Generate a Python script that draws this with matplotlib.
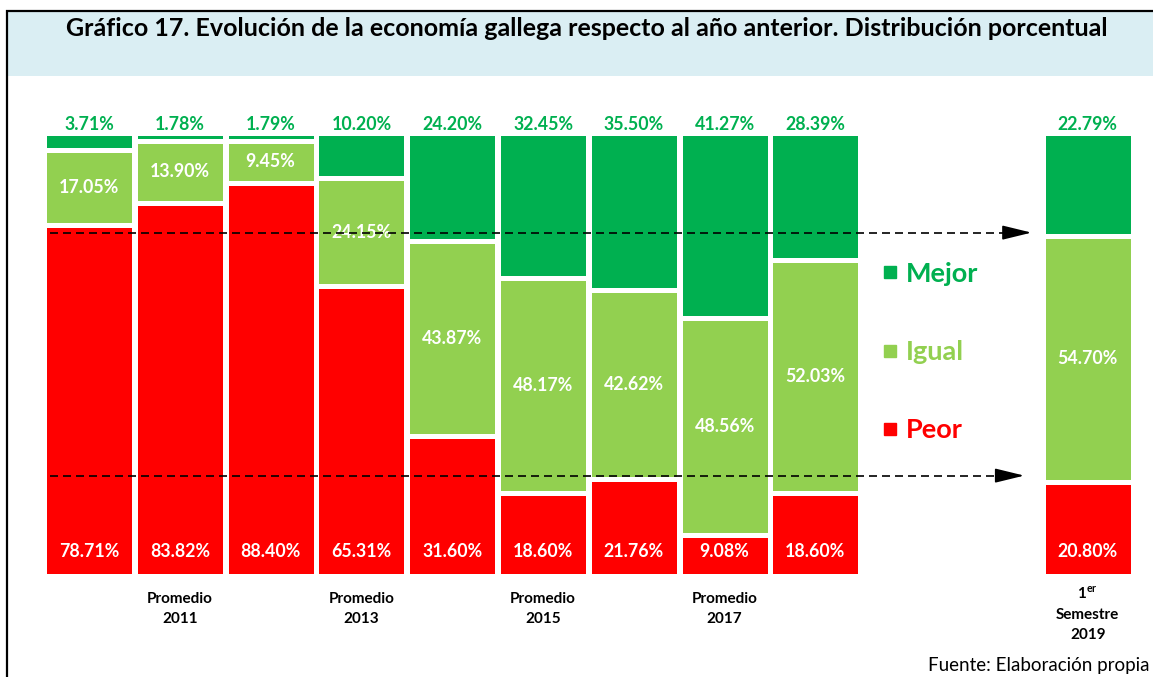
import matplotlib
matplotlib.use('Agg')
import matplotlib.pyplot as plt
from matplotlib.patches import Rectangle
from matplotlib.lines import Line2D
import numpy as np

# ---------------- data ----------------
tick_labels = ['', 'Promedio\n2011', '', 'Promedio\n2013', '', 'Promedio\n2015', '',
               'Promedio\n2017', '', '1$^{\\mathbf{er}}$\nSemestre\n2019']
positions = [0, 1, 2, 3, 4, 5, 6, 7, 8, 11]
mejor = [3.71, 1.78, 1.79, 10.20, 24.20, 32.45, 35.50, 41.27, 28.39, 22.79]
igual = [17.05, 13.90, 9.45, 24.15, 43.87, 48.17, 42.62, 48.56, 52.03, 54.70]
peor = [78.71, 83.82, 88.40, 65.31, 31.60, 18.60, 21.76, 9.08, 18.60, 20.80]
series_names = ['Mejor', 'Igual', 'Peor']
title = ('Gráfico 17. Evolución de la economía gallega respecto al año anterior. '
         'Distribución porcentual')
source = 'Fuente: Elaboración propia'

C_MEJOR = '#00B050'
C_IGUAL = '#92D050'
C_PEOR = '#FF0000'

plt.rcParams['font.family'] = ['Lato', 'DejaVu Sans']
plt.rcParams['mathtext.fontset'] = 'custom'
plt.rcParams['mathtext.rm'] = 'Lato'
plt.rcParams['mathtext.bf'] = 'Lato:bold'

W, H = 1153, 677
fig = plt.figure(figsize=(W / 100, H / 100), dpi=100)


def fx(px):
    return px / W


def fy(py):
    return 1 - py / H


# frame and title band
fig.patches.append(Rectangle((fx(7), fy(76)), 1.0, fy(11) - fy(76),
                             transform=fig.transFigure, fc='#DAEEF3', ec='none', zorder=0))
fig.patches.append(Rectangle((fx(7), fy(900)), 1.2, fy(11) - fy(900),
                             transform=fig.transFigure, fill=False, ec='black', lw=1.6, zorder=1))
fig.text(fx(587), fy(29), title, ha='center', va='center', fontsize=18,
         fontweight='bold', color='black')

# axes
top_px, bot_px = 133, 576
ax = fig.add_axes([fx(43.6), fy(bot_px), 1089.6 / W, (bot_px - top_px) / H])
ax.set_xlim(-0.5, 11.5)
ax.set_ylim(0, 100)
ax.axis('off')

m = np.array(mejor)
i_ = np.array(igual)
p = np.array(peor)
tot = m + i_ + p
mn, inn, pn = m / tot * 100, i_ / tot * 100, p / tot * 100
x = np.array(positions, dtype=float)

bw = 0.99
elw = 3.6
ax.bar(x, pn, width=bw, color=C_PEOR, edgecolor='white', linewidth=elw, zorder=2)
ax.bar(x, inn, bottom=pn, width=bw, color=C_IGUAL, edgecolor='white', linewidth=elw, zorder=2)
ax.bar(x, mn, bottom=pn + inn, width=bw, color=C_MEJOR, edgecolor='white', linewidth=elw, zorder=2)

fs = 12.8
for k in range(len(x)):
    ax.text(x[k], 101.9, f'{mejor[k]:.2f}%', ha='center', va='center', fontsize=fs,
            fontweight='bold', color=C_MEJOR, clip_on=False)
    ax.text(x[k], pn[k] + inn[k] / 2, f'{igual[k]:.2f}%', ha='center', va='center',
            fontsize=fs, fontweight='bold', color='white', zorder=3)
    ax.text(x[k], 5.5, f'{peor[k]:.2f}%', ha='center', va='center', fontsize=fs,
            fontweight='bold', color='white', zorder=3)
    lab = tick_labels[k]
    if lab:
        nlines = lab.count('\n') + 1
        ax.text(x[k], -7.5 if nlines == 2 else -8.5, lab, ha='center', va='center',
                fontsize=11, fontweight='bold', color='black', clip_on=False,
                linespacing=1.5 if nlines == 2 else 1.55)

# dashed arrows at the 2019 segment boundaries
last = len(x) - 1
for yb, xend in [(pn[last] + inn[last] + 0.7, 10.38), (pn[last] + 1.5, 10.3)]:
    ax.plot([-0.43, xend - 0.2], [yb, yb], color='black', lw=1.2, dashes=(4.8, 3),
            zorder=5, clip_on=False)
    ax.annotate('', xy=(xend, yb), xytext=(xend - 0.3, yb),
                arrowprops=dict(arrowstyle='-|>,head_length=0.9,head_width=0.22',
                                color='black', lw=1.2, shrinkA=0, shrinkB=0,
                                mutation_scale=20), zorder=5)

# legend
handles = [Line2D([], [], marker='s', linestyle='none', color=c, markersize=8)
           for c in (C_MEJOR, C_IGUAL, C_PEOR)]
fig.legend(handles, series_names, loc='center left',
           bbox_to_anchor=(fx(882), fy(352)), bbox_transform=fig.transFigure,
           frameon=False, labelcolor=[C_MEJOR, C_IGUAL, C_PEOR],
           prop={'weight': 'bold', 'size': 19.5}, handlelength=0.6, handletextpad=0.3,
           labelspacing=2.0, borderpad=0, borderaxespad=0)

fig.text(fx(928), fy(665), source, ha='left', va='center', fontsize=13.5, color='black')

fig.savefig('out.png', dpi=100)
